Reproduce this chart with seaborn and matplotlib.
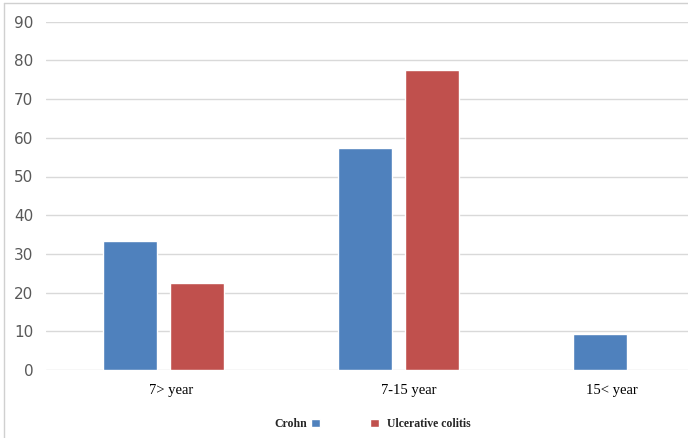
import pandas as pd
import matplotlib
matplotlib.use("Agg")
import matplotlib.pyplot as plt
import matplotlib.transforms as mtransforms
import seaborn as sns

# data (percent)
groups = ['7> year', '7-15 year', '15< year']
crohn = [33.3, 57.4, 9.3]
uc = [22.6, 77.4, 0]
series = ['Crohn', 'Ulcerative colitis']
colors = ['#4F81BD', '#C0504D']

df = pd.DataFrame({
    'group': groups * 2,
    'value': crohn + uc,
    'disease': [series[0]] * 3 + [series[1]] * 3,
})

sns.set_theme(style='white')

fig = plt.figure(figsize=(6.88, 4.38), dpi=100)
# plot area runs past the right edge, like the cropped original
ax = fig.add_axes([46 / 688, 68 / 438, 705 / 688, 348.3 / 438])

sns.barplot(data=df, x='group', y='value', hue='disease', palette=colors,
            width=0.57, gap=0.2, saturation=1, ax=ax)

ax.set_ylim(0, 90)
ax.set_xlim(-0.5, 2.5)
ax.set_yticks(range(0, 91, 10))
ax.yaxis.grid(True, color='#d9d9d9', linewidth=1)
ax.set_axisbelow(True)
for s in ax.spines.values():
    s.set_visible(False)
ax.set_xlabel('')
ax.set_ylabel('')
ax.tick_params(axis='y', length=0, pad=9, labelsize=11, labelcolor='#595959')
ax.tick_params(axis='x', length=0, pad=10)
# the original labels sit a little off the group centres
shifts = [8, 10, -22]
for lab, dx in zip(ax.get_xticklabels(), shifts):
    lab.set_fontfamily('Liberation Serif')
    lab.set_fontsize(10.5)
    lab.set_color('black')
    lab.set_transform(lab.get_transform() +
                      mtransforms.ScaledTranslation(dx / 100, 0, fig.dpi_scale_trans))

# legend: two pieces, text before the blue box, red box before its text
handles, labels = ax.get_legend_handles_labels()
ax.get_legend().remove()
ly = 1 - 424 / 438
leg_font = {'family': 'Liberation Serif', 'weight': 'bold', 'size': 8.5}
leg1 = fig.legend([handles[0]], [labels[0]], loc='center right',
                  bbox_to_anchor=(320 / 688, ly), markerfirst=False, frameon=False,
                  handlelength=0.75, handleheight=0.75, handletextpad=0.3,
                  borderpad=0, borderaxespad=0, prop=leg_font)
leg2 = fig.legend([handles[1]], [labels[1]], loc='center left',
                  bbox_to_anchor=(370 / 688, ly), frameon=False,
                  handlelength=0.75, handleheight=0.75, handletextpad=0.7,
                  borderpad=0, borderaxespad=0, prop=leg_font)

# thin frame of the chart area (left and top)
fig.add_artist(plt.Line2D([4 / 688, 4 / 688], [0, 1 - 3 / 438], color='#d0d0d0', lw=1,
                          transform=fig.transFigure))
fig.add_artist(plt.Line2D([4 / 688, 1], [1 - 3 / 438, 1 - 3 / 438], color='#d0d0d0', lw=1,
                          transform=fig.transFigure))

fig.savefig('out.png', dpi=100)
